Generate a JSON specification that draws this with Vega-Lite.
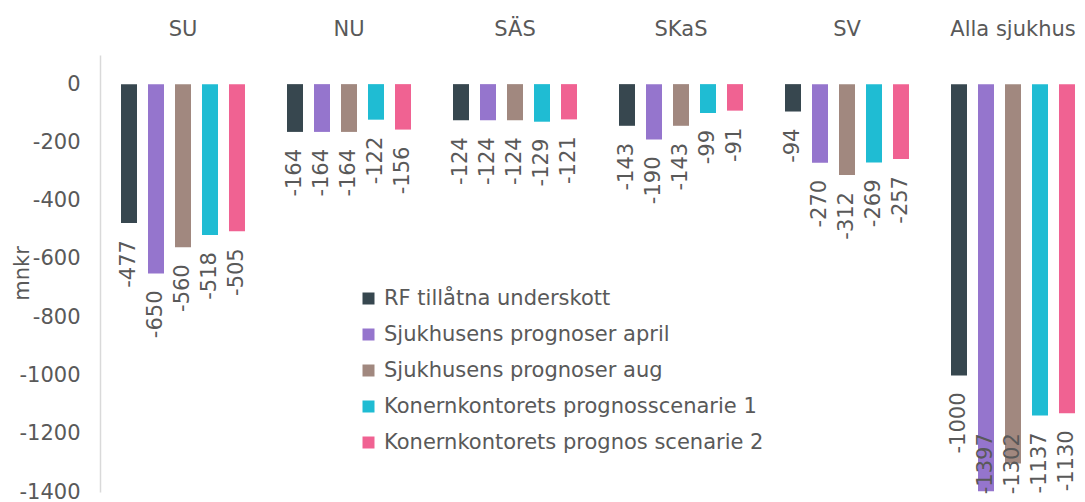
{
  "$schema": "https://vega.github.io/schema/vega-lite/v6.json",
  "width": 985,
  "height": 437,
  "autosize": {"type": "none"},
  "padding": {"left": 100, "top": 55, "right": 0, "bottom": 10},
  "background": "white",
  "config": {"view": {"stroke": null}, "font": "DejaVu Sans"},
  "data": {
    "values": [
      {"group": "SU", "series": "RF tillåtna underskott", "value": -477},
      {"group": "SU", "series": "Sjukhusens prognoser april", "value": -650},
      {"group": "SU", "series": "Sjukhusens prognoser aug", "value": -560},
      {"group": "SU", "series": "Konernkontorets prognosscenarie 1", "value": -518},
      {"group": "SU", "series": "Konernkontorets prognos scenarie 2", "value": -505},
      {"group": "NU", "series": "RF tillåtna underskott", "value": -164},
      {"group": "NU", "series": "Sjukhusens prognoser april", "value": -164},
      {"group": "NU", "series": "Sjukhusens prognoser aug", "value": -164},
      {"group": "NU", "series": "Konernkontorets prognosscenarie 1", "value": -122},
      {"group": "NU", "series": "Konernkontorets prognos scenarie 2", "value": -156},
      {"group": "SÄS", "series": "RF tillåtna underskott", "value": -124},
      {"group": "SÄS", "series": "Sjukhusens prognoser april", "value": -124},
      {"group": "SÄS", "series": "Sjukhusens prognoser aug", "value": -124},
      {"group": "SÄS", "series": "Konernkontorets prognosscenarie 1", "value": -129},
      {"group": "SÄS", "series": "Konernkontorets prognos scenarie 2", "value": -121},
      {"group": "SKaS", "series": "RF tillåtna underskott", "value": -143},
      {"group": "SKaS", "series": "Sjukhusens prognoser april", "value": -190},
      {"group": "SKaS", "series": "Sjukhusens prognoser aug", "value": -143},
      {"group": "SKaS", "series": "Konernkontorets prognosscenarie 1", "value": -99},
      {"group": "SKaS", "series": "Konernkontorets prognos scenarie 2", "value": -91},
      {"group": "SV", "series": "RF tillåtna underskott", "value": -94},
      {"group": "SV", "series": "Sjukhusens prognoser april", "value": -270},
      {"group": "SV", "series": "Sjukhusens prognoser aug", "value": -312},
      {"group": "SV", "series": "Konernkontorets prognosscenarie 1", "value": -269},
      {"group": "SV", "series": "Konernkontorets prognos scenarie 2", "value": -257},
      {"group": "Alla sjukhus", "series": "RF tillåtna underskott", "value": -1000},
      {"group": "Alla sjukhus", "series": "Sjukhusens prognoser april", "value": -1397},
      {"group": "Alla sjukhus", "series": "Sjukhusens prognoser aug", "value": -1302},
      {"group": "Alla sjukhus", "series": "Konernkontorets prognosscenarie 1", "value": -1137},
      {"group": "Alla sjukhus", "series": "Konernkontorets prognos scenarie 2", "value": -1130}
    ]
  },
  "transform": [{"calculate": "max(datum.value, -1140)", "as": "labelPos"}],
  "encoding": {
    "x": {
      "field": "group",
      "type": "nominal",
      "sort": ["SU", "NU", "SÄS", "SKaS", "SV", "Alla sjukhus"],
      "scale": {"range": [0, 996], "paddingInner": 0, "paddingOuter": 0},
      "axis": {
        "orient": "top",
        "title": null,
        "labelAngle": 0,
        "domain": false,
        "ticks": false,
        "labelFontSize": 21,
        "labelColor": "#595959",
        "labelPadding": 16
      }
    },
    "xOffset": {
      "field": "series",
      "type": "nominal",
      "sort": ["RF tillåtna underskott", "Sjukhusens prognoser april", "Sjukhusens prognoser aug", "Konernkontorets prognosscenarie 1", "Konernkontorets prognos scenarie 2"],
      "scale": {"paddingInner": 0.4074, "paddingOuter": 0.778}
    }
  },
  "layer": [
    {
      "mark": {"type": "bar"},
      "encoding": {
        "y": {
          "field": "value",
          "type": "quantitative",
          "scale": {"domain": [-1400, 100], "nice": false, "zero": false},
          "axis": {
            "values": [-1400, -1200, -1000, -800, -600, -400, -200, 0],
            "labelExpr": "toString(datum.value)",
            "grid": false,
            "ticks": false,
            "domain": true,
            "domainColor": "#d9d9d9",
            "domainWidth": 1.5,
            "labelFontSize": 21,
            "labelColor": "#595959",
            "labelPadding": 20,
            "title": "mnkr",
            "titleFontSize": 21,
            "titleFontWeight": "normal",
            "titleColor": "#595959",
            "titleAngle": 270,
            "titleAlign": "center",
            "titleBaseline": "alphabetic",
            "titleX": -72,
            "titleY": 218
          }
        },
        "color": {
          "field": "series",
          "type": "nominal",
          "scale": {
            "domain": ["RF tillåtna underskott", "Sjukhusens prognoser april", "Sjukhusens prognoser aug", "Konernkontorets prognosscenarie 1", "Konernkontorets prognos scenarie 2"],
            "range": ["#37474F", "#9575CD", "#A1887F", "#1FBCD3", "#F06292"]
          },
          "legend": {
            "orient": "none",
            "legendX": 258,
            "legendY": 233,
            "title": null,
            "symbolType": "square",
            "symbolSize": 144,
            "symbolStrokeWidth": 0,
            "labelFontSize": 21,
            "labelColor": "#595959",
            "labelOffset": 5,
            "labelLimit": 0,
            "rowPadding": 14,
            "padding": 0
          }
        }
      }
    },
    {
      "mark": {"type": "rule", "color": "#d9d9d9", "strokeWidth": 2},
      "encoding": {"y": {"datum": 0, "type": "quantitative"}}
    },
    {
      "mark": {
        "type": "text",
        "angle": 270,
        "align": "right",
        "baseline": "middle",
        "dx": -17,
        "fontSize": 21,
        "color": "#595959"
      },
      "encoding": {
        "y": {"field": "labelPos", "type": "quantitative", "title": "mnkr"},
        "text": {"field": "value", "type": "nominal"}
      }
    }
  ]
}
